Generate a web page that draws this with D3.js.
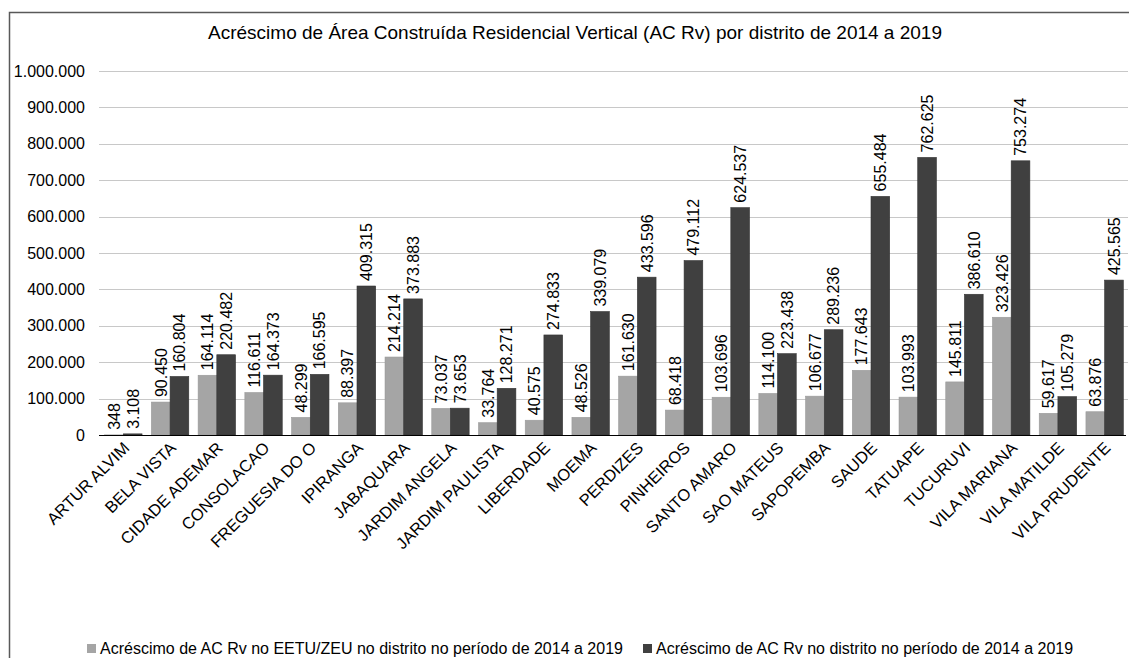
<!DOCTYPE html>
<html>
<head>
<meta charset="utf-8">
<script src="https://cdn.jsdelivr.net/npm/d3@7"></script>
<style>
  body { margin: 0; background: #fff; }
  svg { display: block; font-family: "Liberation Sans", Arial, sans-serif; }
</style>
</head>
<body>
<svg id="chart" width="1129" height="658"></svg>
<script>
const title = "Acréscimo de Área Construída Residencial Vertical (AC Rv) por distrito de 2014 a 2019";
const districts = ["ARTUR ALVIM","BELA VISTA","CIDADE ADEMAR","CONSOLACAO","FREGUESIA DO O","IPIRANGA","JABAQUARA","JARDIM ANGELA","JARDIM PAULISTA","LIBERDADE","MOEMA","PERDIZES","PINHEIROS","SANTO AMARO","SAO MATEUS","SAPOPEMBA","SAUDE","TATUAPE","TUCURUVI","VILA MARIANA","VILA MATILDE","VILA PRUDENTE"];
const eetuValues = [348,90450,164114,116611,48299,88397,214214,73037,33764,40575,48526,161630,68418,103696,114100,106677,177643,103993,145811,323426,59617,63876];
const totalValues = [3108,160804,220482,164373,166595,409315,373883,73653,128271,274833,339079,433596,479112,624537,223438,289236,655484,762625,386610,753274,105279,425565];
const seriesNames = ["Acréscimo de AC Rv no EETU/ZEU no distrito no período de 2014 a 2019","Acréscimo de AC Rv no distrito no período de 2014 a 2019"];
const seriesColors = ["#a5a5a5","#404040"];
const yTicks = [0,100000,200000,300000,400000,500000,600000,700000,800000,900000,1000000];

(function(){
const svg = d3.select("#chart");
const fmt = v => d3.format(",")(v).replace(/,/g, ".");
const FS = 16;

// frame
svg.append("path").attr("d","M9.5,700 V12.5 H1200").attr("fill","none").attr("stroke","#595959").attr("stroke-width",1.5);

svg.append("text").attr("x",575).attr("y",39).attr("text-anchor","middle")
  .attr("font-size",19).attr("fill","#000").text(title);

const pL = 100, pR = 1128, pT = 71, pB = 435;
const y = d3.scaleLinear().domain([0,1000000]).range([pB, pT]);
const x0 = d3.scaleBand().domain(districts).range([pL,pR]).paddingInner(0.2).paddingOuter(0.1);
const x1 = d3.scaleBand().domain([0,1]).range([0,x0.bandwidth()]).padding(0);

// gridlines
svg.append("g").selectAll("line").data(yTicks.slice(1)).join("line")
  .attr("x1",pL-1).attr("x2",pR).attr("y1",d=>Math.round(y(d))+0.5).attr("y2",d=>Math.round(y(d))+0.5)
  .attr("stroke","#c8c8c8").attr("stroke-width",1.2);

// y axis labels
const yAxis = d3.axisLeft(y).tickValues(yTicks).tickFormat(fmt).tickSize(0).tickPadding(0);
const ya = svg.append("g").attr("transform",`translate(${85},0)`).call(yAxis);
ya.select(".domain").remove();
ya.selectAll("text").attr("font-size",FS).attr("fill","#000").attr("font-family","Liberation Sans, Arial, sans-serif");

// bars
const data = districts.map((d,i)=>({d, vals:[eetuValues[i], totalValues[i]]}));
const groups = svg.append("g").selectAll("g").data(data).join("g")
  .attr("transform", d=>`translate(${x0(d.d)},0)`);
groups.selectAll("rect").data(d=>d.vals.map((v,k)=>({v,k}))).join("rect")
  .attr("x",d=>x1(d.k)).attr("width",x1.bandwidth())
  .attr("y",d=>y(d.v)).attr("height",d=>pB-y(d.v))
  .attr("fill",d=>seriesColors[d.k]).attr("stroke",d=>d.k===0?"#999":"#333").attr("stroke-width",0.6);
groups.selectAll("text").data(d=>d.vals.map((v,k)=>({v,k}))).join("text")
  .attr("transform",d=>`translate(${x1(d.k)+x1.bandwidth()/2+5.8},${y(d.v)-5}) rotate(-90)`)
  .attr("font-size",FS).attr("fill","#000").text(d=>fmt(d.v));

// baseline
svg.append("line").attr("x1",pL-1).attr("x2",pR-2).attr("y1",pB+0.5).attr("y2",pB+0.5)
  .attr("stroke","#000").attr("stroke-width",1.2);

// x axis labels
const xa = svg.append("g").attr("transform",`translate(0,${pB})`)
  .call(d3.axisBottom(x0).tickSize(0).tickPadding(0));
xa.select(".domain").remove();
xa.selectAll("text").attr("text-anchor","end").attr("font-size",16.5).attr("fill","#000")
  .attr("font-family","Liberation Sans, Arial, sans-serif")
  .attr("dy",null).attr("y",null)
  .attr("transform","translate(7,14) rotate(-45)");

// legend
const legX = [87, 643];
const lg = svg.append("g").selectAll("g").data(seriesNames).join("g")
  .attr("transform",(d,i)=>`translate(${legX[i]},644)`);
lg.append("rect").attr("width",9).attr("height",9).attr("fill",(d,i)=>seriesColors[i]);
lg.append("text").attr("x",13).attr("y",9.5).attr("font-size",FS).attr("fill","#000").text(d=>d);
})();
</script>
</body>
</html>
